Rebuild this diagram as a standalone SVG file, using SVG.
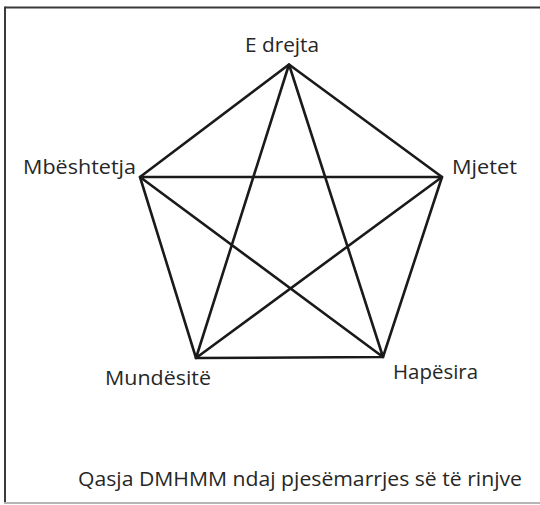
<svg xmlns="http://www.w3.org/2000/svg" width="540" height="505" viewBox="0 0 540 505">
<style>
.lbl{font-family:"Open Sans","Liberation Sans",sans-serif;font-size:20.5px;fill:#262626}
.edge{stroke:#1a1a1a;stroke-width:2.6;fill:none;stroke-linecap:round;stroke-linejoin:round}
</style>
<rect width="540" height="505" fill="#ffffff"/>
<g id="frame">
<line x1="5" y1="7.5" x2="540" y2="7.5" stroke="#3a3a3a" stroke-width="2"/>
<line x1="5" y1="6.5" x2="5" y2="503" stroke="#3a3a3a" stroke-width="2"/>
<line x1="4" y1="503" x2="540" y2="503" stroke="#b5b5b5" stroke-width="2"/>
</g>
<g id="connectors">
<path class="edge" d="M289,64.5 L442,177 L383,357 L196,358 L140,177 Z"/>
<path class="edge" d="M289,64.5 L196,358 L442,177 L140,177 L383,357 Z"/>
</g>
<g id="node-edrejta"><text class="lbl" x="245" y="52" textLength="74" lengthAdjust="spacingAndGlyphs">E drejta</text></g>
<g id="node-mjetet"><text class="lbl" x="452" y="174" textLength="65" lengthAdjust="spacingAndGlyphs">Mjetet</text></g>
<g id="node-hapesira"><text class="lbl" x="393" y="378.5" textLength="85" lengthAdjust="spacingAndGlyphs">Hapësira</text></g>
<g id="node-mundesite"><text class="lbl" x="105" y="385" textLength="106" lengthAdjust="spacingAndGlyphs">Mundësitë</text></g>
<g id="node-mbeshtetja"><text class="lbl" x="23" y="173.5" textLength="113" lengthAdjust="spacingAndGlyphs">Mbështetja</text></g>
<g id="caption"><text class="lbl" x="78" y="486" textLength="444" lengthAdjust="spacingAndGlyphs">Qasja DMHMM ndaj pjesëmarrjes së të rinjve</text></g>
</svg>
